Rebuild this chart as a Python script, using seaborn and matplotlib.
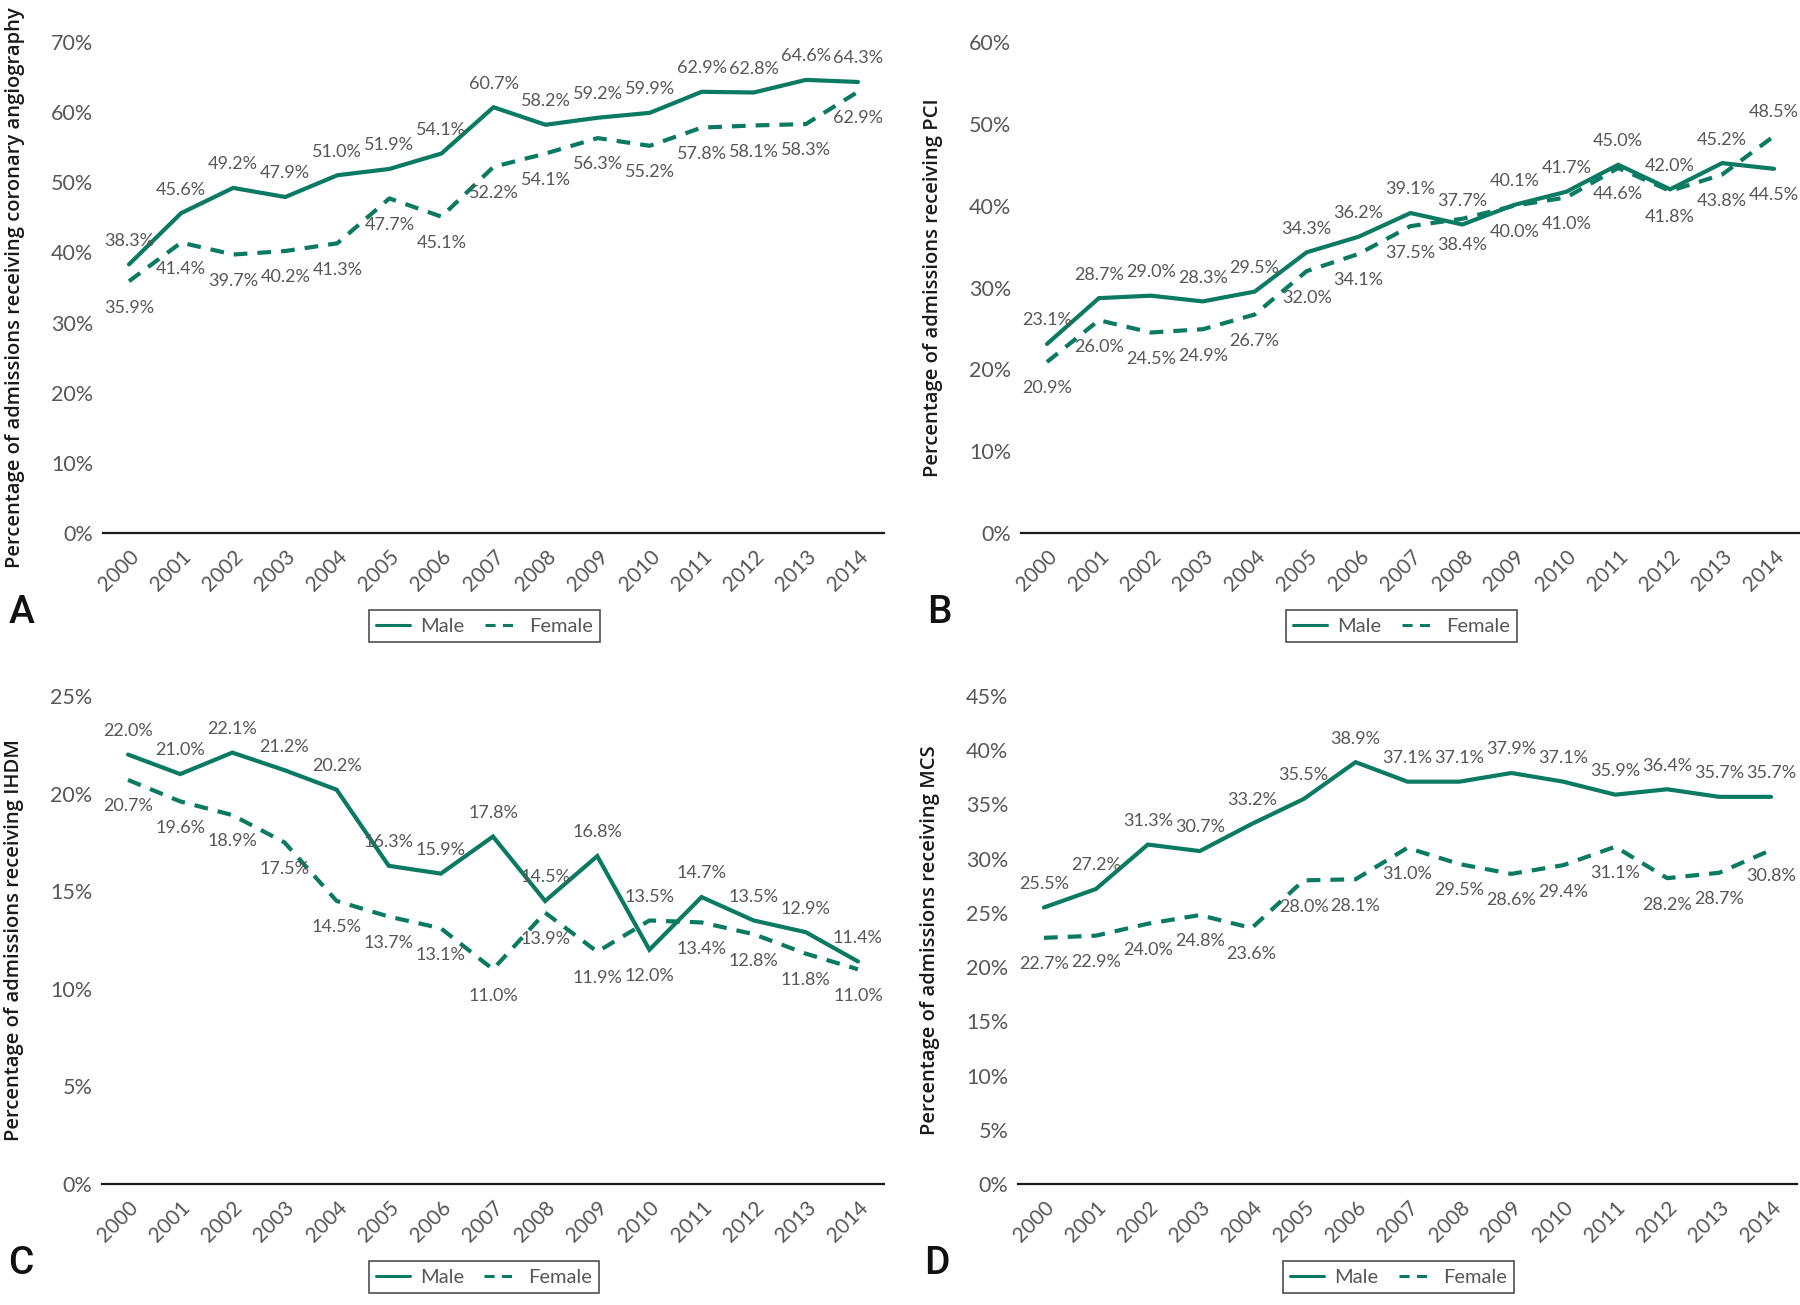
import seaborn as sns
import pandas as pd
import matplotlib.pyplot as plt
from matplotlib.lines import Line2D

years = list(range(2000, 2015))

angio_male = [38.3, 45.6, 49.2, 47.9, 51.0, 51.9, 54.1, 60.7, 58.2, 59.2, 59.9, 62.9, 62.8, 64.6, 64.3]
angio_female = [35.9, 41.4, 39.7, 40.2, 41.3, 47.7, 45.1, 52.2, 54.1, 56.3, 55.2, 57.8, 58.1, 58.3, 62.9]
pci_male = [23.1, 28.7, 29.0, 28.3, 29.5, 34.3, 36.2, 39.1, 37.7, 40.1, 41.7, 45.0, 42.0, 45.2, 44.5]
pci_female = [20.9, 26.0, 24.5, 24.9, 26.7, 32.0, 34.1, 37.5, 38.4, 40.0, 41.0, 44.6, 41.8, 43.8, 48.5]
ihdm_male = [22.0, 21.0, 22.1, 21.2, 20.2, 16.3, 15.9, 17.8, 14.5, 16.8, 12.0, 14.7, 13.5, 12.9, 11.4]
ihdm_female = [20.7, 19.6, 18.9, 17.5, 14.5, 13.7, 13.1, 11.0, 13.9, 11.9, 13.5, 13.4, 12.8, 11.8, 11.0]
mcs_male = [25.5, 27.2, 31.3, 30.7, 33.2, 35.5, 38.9, 37.1, 37.1, 37.9, 37.1, 35.9, 36.4, 35.7, 35.7]
mcs_female = [22.7, 22.9, 24.0, 24.8, 23.6, 28.0, 28.1, 31.0, 29.5, 28.6, 29.4, 31.1, 28.2, 28.7, 30.8]

ylabels = ['Percentage of admissions receiving coronary angiography',
           'Percentage of admissions receiving PCI',
           'Percentage of admissions receiving IHDM',
           'Percentage of admissions receiving MCS']
letters = ['A', 'B', 'C', 'D']
ymax = [70, 60, 25, 45]
ystep = [10, 10, 5, 5]
# years where the lower line's label goes on top anyway
swap = {('B', 2008)}

GREEN = '#0a7a62'
GREY = '#575757'
TXT = 'Lato'

sns.set_theme(style='white')
plt.rcParams['font.family'] = ['Lato', 'DejaVu Sans']

fig = plt.figure(figsize=(18, 13.05), dpi=100)
W, H = 1800, 1305
# axes boxes in pixels: left, right, top, bottom
boxes = [(103, 884, 42, 533), (1021, 1800, 42, 533),
         (102, 884, 696, 1184), (1018, 1797, 696, 1184)]
panels = [(angio_male, angio_female), (pci_male, pci_female),
          (ihdm_male, ihdm_female), (mcs_male, mcs_female)]

for i, (male, female) in enumerate(panels):
    l, r, t, b = boxes[i]
    ax = fig.add_axes([l / W, 1 - b / H, (r - l) / W, (b - t) / H])
    df = pd.DataFrame({'pos': list(range(len(years))) * 2,
                       'value': male + female,
                       'sex': ['Male'] * len(years) + ['Female'] * len(years)})
    sns.lineplot(data=df[df.sex == 'Male'], x='pos', y='value', ax=ax,
                 color=GREEN, lw=3.0, solid_joinstyle='miter')
    sns.lineplot(data=df[df.sex == 'Female'], x='pos', y='value', ax=ax,
                 color=GREEN, lw=3.0, linestyle=(0, (3.3, 2.4)))

    for k, yr in enumerate(years):
        m, f = male[k], female[k]
        male_up = m >= f
        if (letters[i], yr) in swap:
            male_up = not male_up
        for v, up in ((m, male_up), (f, not male_up)):
            ax.annotate(f'{v:.1f}%', (k, v), xytext=(0, 17 if up else -19),
                        textcoords='offset points', ha='center', va='center',
                        fontsize=13, color=GREY, family=TXT)

    ax.set_xlim(-0.5, len(years) - 0.5)
    ax.set_ylim(0, ymax[i])
    ax.set_yticks(range(0, ymax[i] + 1, ystep[i]))
    ax.set_yticklabels([f'{v}%' for v in range(0, ymax[i] + 1, ystep[i])],
                       fontsize=15.5, color=GREY, family=TXT)
    ax.set_xticks(range(len(years)))
    ax.set_xticklabels([str(y) for y in years], rotation=45, ha='right',
                       rotation_mode='anchor', fontsize=15, color=GREY,
                       family=TXT)
    ax.tick_params(axis='both', length=0, pad=7)
    ax.tick_params(axis='x', pad=10)
    ax.set_xlabel('')
    ax.set_ylabel(ylabels[i], fontsize=14.5, color='#1a1a1a',
                  family='Open Sans', fontweight='semibold')
    ax.yaxis.set_label_coords(-0.1, 0.5)
    for s in ['top', 'right', 'left']:
        ax.spines[s].set_visible(False)
    ax.spines['bottom'].set_color('#1a1a1a')
    ax.spines['bottom'].set_linewidth(1.6)
    ax.set_facecolor('white')

    handles = [Line2D([], [], color=GREEN, lw=2.2),
               Line2D([], [], color=GREEN, lw=2.2, linestyle=(0, (3.3, 2.4)))]
    leg = fig.legend(handles, ['Male', 'Female'], loc='center',
                     bbox_to_anchor=((l + r) / 2 / W - 0.005, 1 - (b + 93) / H),
                     ncol=2, frameon=True, fancybox=False, handlelength=1.7,
                     columnspacing=1.0, borderpad=0.35, handletextpad=0.5,
                     prop={'family': TXT, 'size': 14.5})
    leg.get_frame().set_edgecolor('#222222')
    leg.get_frame().set_linewidth(1.2)
    for txt in leg.get_texts():
        txt.set_color(GREY)

    fig.text((l - 94) / W, 1 - (b + 79) / H, letters[i], fontsize=28,
             family='Roboto', fontweight='medium', color='#111111',
             ha='left', va='center')

fig.savefig('out.png', dpi=100, facecolor='white')
